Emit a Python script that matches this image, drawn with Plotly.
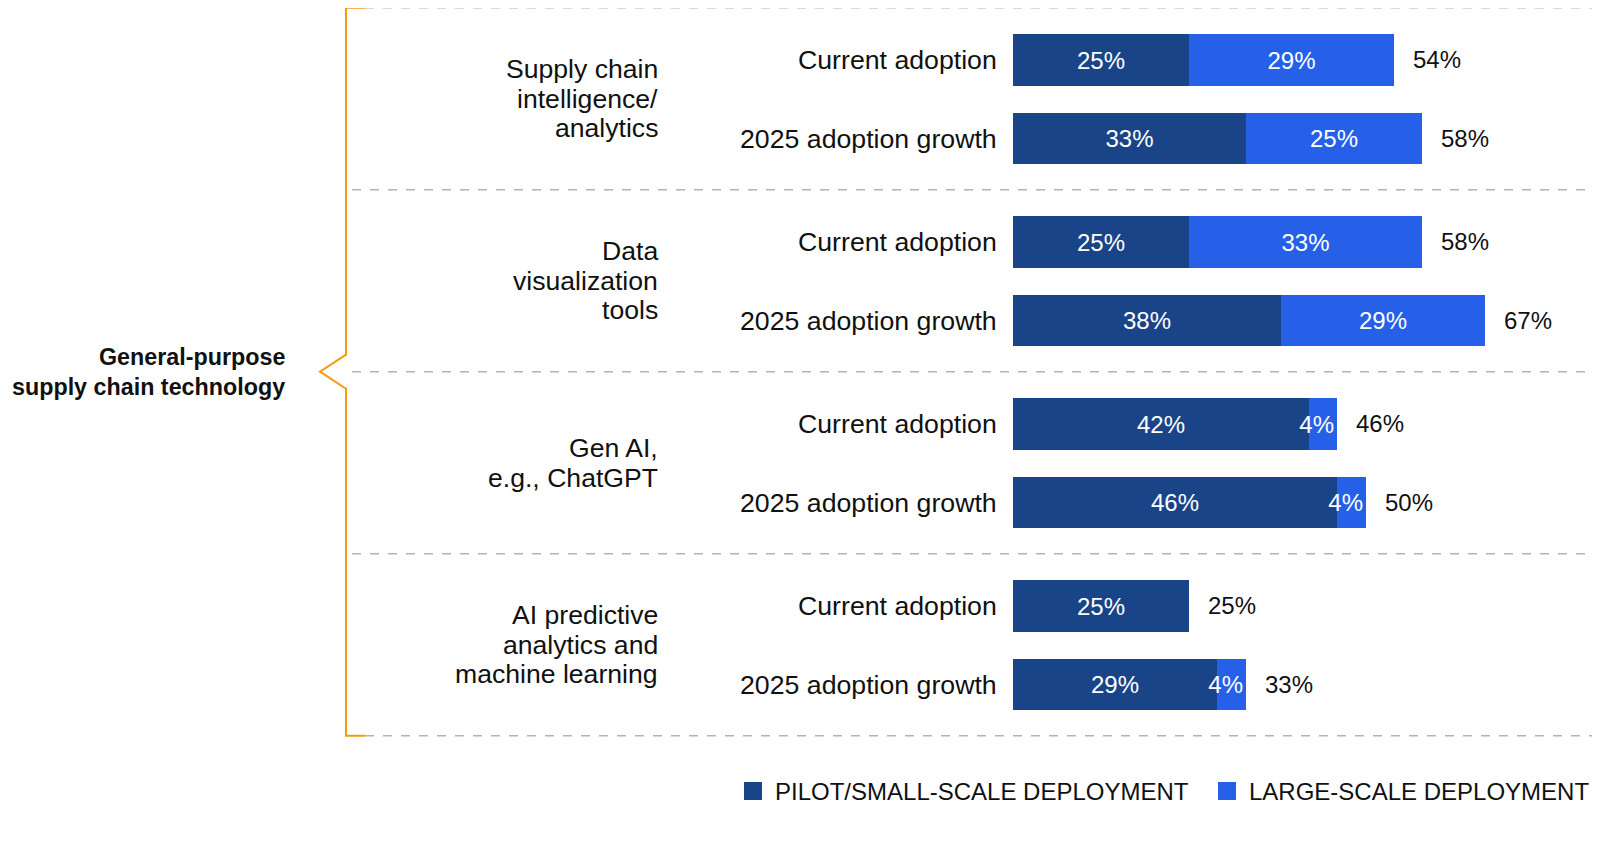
import plotly.graph_objects as go

# values (percent of respondents)
groups = [
    ["Supply chain", "intelligence/", "analytics"],
    ["Data", "visualization", "tools"],
    ["Gen AI,", "e.g., ChatGPT"],
    ["AI predictive", "analytics and", "machine learning"],
]
rows = ["Current adoption", "2025 adoption growth"]
pilot = [25, 33, 25, 38, 42, 46, 25, 29]
large = [29, 25, 33, 29, 4, 4, 0, 4]
series_names = ["PILOT/SMALL-SCALE DEPLOYMENT", "LARGE-SCALE DEPLOYMENT"]
super_label = ["General-purpose", "supply chain technology"]

DARK = "#1A4488"
BRIGHT = "#2660E8"
FONT = "Liberation Sans, Arial, sans-serif"

W, H = 1600, 850
OFF = 8                          # page body margin shifts the figure
X0_PX, PX_PER = 1013 - OFF, 7.05  # where 0% sits and px per percent
Y0_PX, GROUP_PX = 7.7 - OFF, 182.0


def px(v):
    # screen x pixel -> paper fraction
    return (v - OFF) / W


def py(v):
    # screen y pixel -> paper fraction
    return 1 - (v - OFF) / H


# y position of each bar: group index + offset inside group
ypos = []
for g in range(len(groups)):
    for s in range(len(rows)):
        ypos.append(g + 0.287 + s * 0.432)

totals = [p + l for p, l in zip(pilot, large)]


def bar(vals, name, col, anchor):
    return go.Bar(
        x=vals, y=ypos, orientation="h", name=name, showlegend=False,
        marker=dict(color=col, line=dict(width=0)),
        width=0.283,
        text=[f"{v}%" if v else "" for v in vals],
        textposition="inside", insidetextanchor=anchor,
        constraintext="none", textangle=0,
        textfont=dict(color="white", size=24, family=FONT),
        hoverinfo="skip",
    )


# narrow large-scale slivers get their label pushed to the bar end
large_wide = [v if v >= 10 else 0 for v in large]
large_thin = [v if v < 10 else 0 for v in large]

fig = go.Figure()
fig.add_trace(bar(pilot, series_names[0], DARK, "middle"))
fig.add_trace(bar(large_wide, series_names[1], BRIGHT, "middle"))
fig.add_trace(bar(large_thin, series_names[1], BRIGHT, "end"))

annotations = []
# totals to the right of each bar
for t, y in zip(totals, ypos):
    annotations.append(dict(x=t, y=y, xref="x", yref="y", text=f"{t}%",
                            xanchor="left", yanchor="middle", xshift=17,
                            showarrow=False, font=dict(size=24, color="#111")))
# row labels
for i, y in enumerate(ypos):
    annotations.append(dict(x=px(999), y=y, xref="paper", yref="y",
                            text=rows[i % 2], xanchor="right", yanchor="middle",
                            showarrow=False, font=dict(size=26.7, color="#111")))
# group labels, one annotation per line
LINE = 29.6
for g, lines in enumerate(groups):
    n = len(lines)
    for k, ln in enumerate(lines):
        annotations.append(dict(x=px(660), y=g + 0.5, xref="paper", yref="y",
                                text=ln, xanchor="right", yanchor="middle",
                                yshift=-(k - (n - 1) / 2) * LINE, showarrow=False,
                                font=dict(size=26.6, color="#111")))
for k, ln in enumerate(super_label):
    annotations.append(dict(x=px(287), y=len(groups) / 2, xref="paper", yref="y",
                            text=f"<b>{ln}</b>", xanchor="right", yanchor="middle",
                            yshift=-(k - 0.5) * LINE, showarrow=False,
                            font=dict(size=23.3, color="#111")))

shapes = []
# dashed separators
for g in range(len(groups) + 1):
    start = 365 if g in (0, len(groups)) else 352
    shapes.append(dict(type="line", xref="paper", yref="y", x0=px(start), x1=1.0,
                       y0=g, y1=g, line=dict(color="#b4b4b4", width=1.5, dash="dash")))
# orange bracket (x in paper, y in group units)
bx, tick, tip = px(346), px(365), px(320)
mid, half = len(groups) / 2, 17 / GROUP_PX
top, bot = 0, len(groups)
path = (f"M {tick} {top} L {bx} {top} L {bx} {mid - half} L {tip} {mid} "
        f"L {bx} {mid + half} L {bx} {bot} L {tick} {bot}")
shapes.append(dict(type="path", xref="paper", yref="y", path=path,
                   line=dict(color="#F39C12", width=2)))

# legend: colour swatch + caption
for name, col, sq in [(series_names[0], DARK, 744), (series_names[1], BRIGHT, 1218)]:
    shapes.append(dict(type="rect", xref="paper", yref="paper",
                       x0=px(sq), x1=px(sq + 18), y0=py(800), y1=py(782),
                       fillcolor=col, line=dict(width=0)))
    annotations.append(dict(x=px(sq + 29), y=py(791), xref="paper", yref="paper",
                            text=name, xanchor="left", yanchor="middle", showarrow=False,
                            font=dict(size=24, color="#111")))

fig.update_layout(
    width=W, height=H,
    margin=dict(l=0, r=0, t=0, b=0),
    paper_bgcolor="white", plot_bgcolor="white",
    barmode="stack", bargap=0,
    font=dict(family=FONT, color="#111"),
    xaxis=dict(range=[(0 - X0_PX) / PX_PER, (W - X0_PX) / PX_PER], visible=False, fixedrange=True),
    yaxis=dict(range=[(H - Y0_PX) / GROUP_PX, -Y0_PX / GROUP_PX], visible=False, fixedrange=True),
    showlegend=False,
    annotations=annotations,
    shapes=shapes,
)

fig.write_html("out.html")
